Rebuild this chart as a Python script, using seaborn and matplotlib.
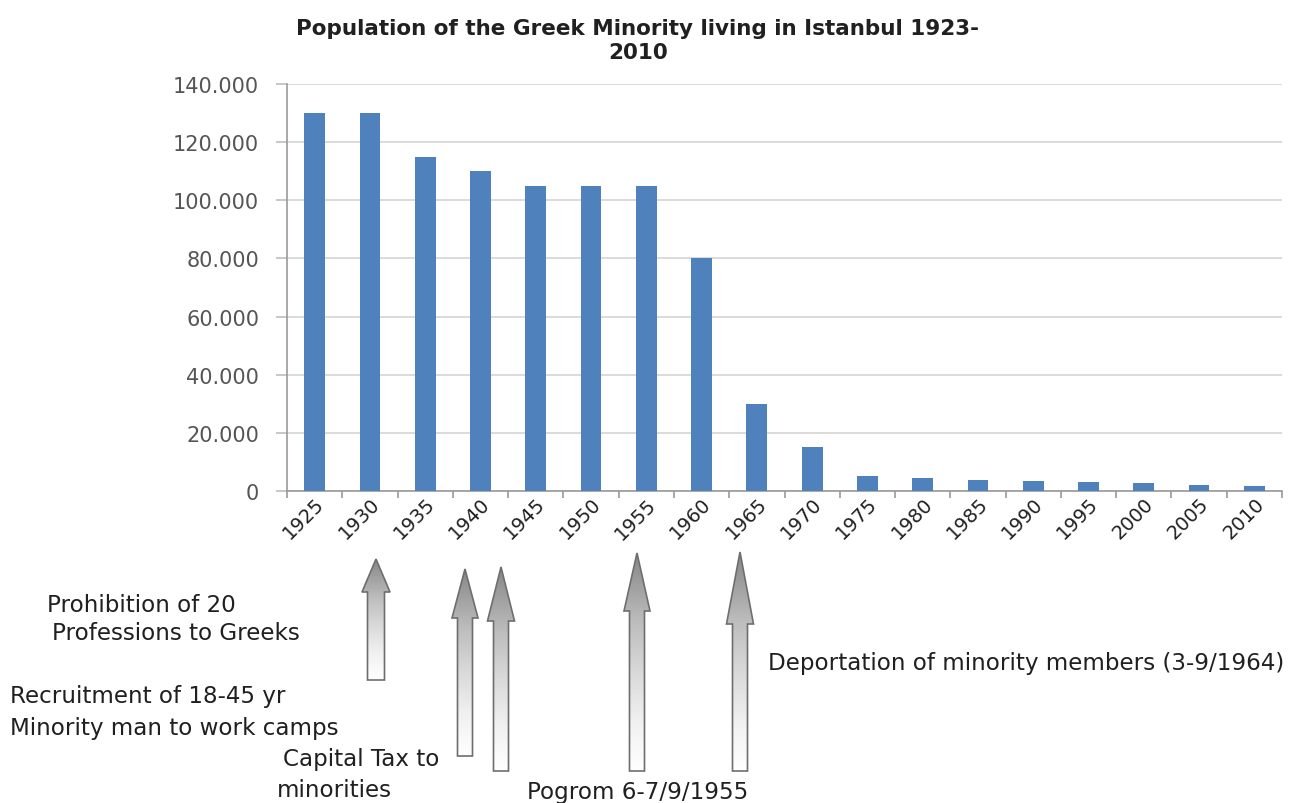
import numpy as np
import pandas as pd
import matplotlib
matplotlib.use("Agg")
import matplotlib.pyplot as plt
import seaborn as sns
from matplotlib.patches import Polygon
from matplotlib.ticker import FuncFormatter

# ── data ─────────────────────────────────────────────────────────────────────
years = ["1925", "1930", "1935", "1940", "1945", "1950", "1955", "1960", "1965",
         "1970", "1975", "1980", "1985", "1990", "1995", "2000", "2005", "2010"]
population = [130000, 130000, 115000, 110000, 105000, 105000, 105000, 80000, 30000,
              15000, 5000, 4500, 3800, 3400, 3000, 2700, 1900, 1800]
y_ticks = [0, 20000, 40000, 60000, 80000, 100000, 120000, 140000]

title = "Population of the Greek Minority living in Istanbul 1923-\n2010"

# annotations: (text, x px, y px)
notes = [
    ("Prohibition of 20", 47, 606),
    ("Professions to Greeks", 52, 634),
    ("Recruitment of 18-45 yr", 10, 697),
    ("Minority man to work camps", 10, 729),
    ("Capital Tax to", 283, 760),
    ("minorities", 277, 791),
    ("Pogrom 6-7/9/1955", 527, 793),
    ("Deportation of minority members (3-9/1964)", 768, 664),
]

# arrow shapes in pixel coords: (x centre, tip y, head base y, bottom y, head w, shaft w)
arrows = [
    (376, 560, 593, 681, 28, 17),
    (465, 570, 619, 757, 26, 15),
    (501, 568, 622, 772, 27, 15),
    (637, 554, 612, 772, 26, 15),
    (740, 553, 625, 772, 27, 15),
]

BLUE = "#4F81BD"
W, H = 1295, 804

sns.set_theme(style="white")
plt.rcParams["font.family"] = ["DejaVu Sans"]

fig = plt.figure(figsize=(W / 100, H / 100), dpi=100)
ax = fig.add_axes([287 / W, 1 - 492 / H, (1282 - 287) / W, (492 - 85) / H])

df = pd.DataFrame({"year": years, "population": population})
sns.barplot(data=df, x="year", y="population", color=BLUE, saturation=1,
            width=0.375, linewidth=0, ax=ax, zorder=3)

ax.set_xlim(-0.5, len(years) - 0.5)
ax.set_ylim(0, 140000)
ax.set_yticks(y_ticks)
ax.yaxis.set_major_formatter(FuncFormatter(lambda v, p: f"{int(v):,}".replace(",", ".")))
ax.grid(axis="y", color="#D4D4D4", linewidth=1.2, zorder=0)
ax.set_xlabel("")
ax.set_ylabel("")

for s in ["top", "right"]:
    ax.spines[s].set_visible(False)
for s in ["left", "bottom"]:
    ax.spines[s].set_color("#9A9A9A")
    ax.spines[s].set_linewidth(1.2)

ax.tick_params(axis="y", length=8, color="#BDBDBD", width=1.2, labelsize=15,
               labelcolor="#555555", pad=12, left=True)
ax.tick_params(axis="x", which="major", length=0, labelsize=14, labelcolor="#202020", pad=2)
ax.set_xticks(np.arange(-0.5, len(years), 1.0), minor=True)
ax.tick_params(axis="x", which="minor", length=5, color="#9A9A9A", width=1.2, bottom=True)
plt.setp(ax.get_xticklabels(), rotation=45, ha="right", rotation_mode="anchor")

fig.text(638 / W, 1 - 41 / H, title, ha="center", va="center", fontsize=15.5,
         fontweight="bold", color="#202020", linespacing=1.3)

# overlay in pixel coordinates for the notes and arrows
ov = fig.add_axes([0, 0, 1, 1])
ov.set_xlim(0, W)
ov.set_ylim(H, 0)
ov.axis("off")

grad = np.linspace(0.55, 0.0, 256).reshape(-1, 1)   # dark grey at tip, white at tail
for xc, ty, hy, by, hw, sw in arrows:
    pts = [(xc, ty), (xc + hw / 2, hy), (xc + sw / 2, hy), (xc + sw / 2, by),
           (xc - sw / 2, by), (xc - sw / 2, hy), (xc - hw / 2, hy)]
    poly = Polygon(pts, closed=True, facecolor="none", edgecolor="#6E6E6E", lw=1.2, zorder=3)
    ov.add_patch(poly)
    im = ov.imshow(grad, cmap="Greys", vmin=0, vmax=1, aspect="auto",
                   extent=(xc - hw / 2, xc + hw / 2, by, ty), zorder=2)
    im.set_clip_path(poly)

for txt, x, y in notes:
    ov.text(x, y, txt, ha="left", va="center", fontsize=16.6, color="#202020")

fig.savefig("out.png", dpi=100)
